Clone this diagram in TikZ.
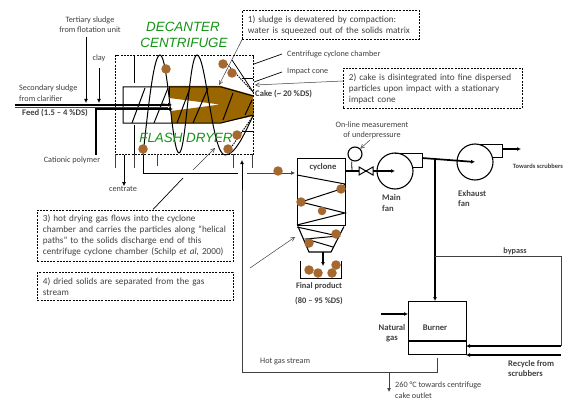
\documentclass[tikz,border=0pt]{standalone}
\usepackage{fontspec}
\setmainfont{Carlito}
\newfontfamily\greenfont{Liberation Sans}
\usetikzlibrary{arrows.meta}
\definecolor{ballc}{HTML}{A5692F}
\definecolor{cakec}{HTML}{996600}
\definecolor{txtc}{HTML}{404040}
\definecolor{grn}{HTML}{149414}
\tikzset{
 lab/.style={inner sep=0pt,anchor=west,align=left,font=\fontsize{8.2}{10.5}\selectfont,text=txtc},
 labc/.style={inner sep=0pt,anchor=center,align=center,font=\fontsize{8.2}{10}\selectfont,text=txtc},
 blab/.style={inner sep=0pt,anchor=west,align=left,font=\bfseries\fontsize{8.6}{10.5}\selectfont,text=txtc},
 title/.style={inner sep=0pt,anchor=center,font=\greenfont\itshape\fontsize{13.4}{14}\selectfont,text=grn},
 note/.style={draw,dash pattern=on 2pt off 1.2pt,line width=.8pt,anchor=north west,inner xsep=5.5pt,inner ysep=0pt,align=left,font=\fontsize{9.2}{11}\selectfont,text=txtc},
 ball/.style={circle,fill=ballc,inner sep=0pt,minimum size=9.5pt},
 thinln/.style={line width=.5pt,draw=txtc},
 med/.style={line width=1pt},
 arr/.style={-{Latex[length=4pt,width=4pt]}},
 oarr/.style={-{Straight Barb[length=4pt,width=4pt]}},
 blade/.style={line width=1pt}
}
\begin{document}
\begin{tikzpicture}[x=1pt,y=-1pt]
\useasboundingbox[fill=white] (0,0) rectangle (564,401);
% cake
\fill[cakec] (169,86) -- (221,86) -- (253,95) -- (254,116) -- (221,123) -- (171,123) -- (171,111) -- (220,104.5) -- (169,98) -- cycle;
% inner body
\draw[med] (169,87) -- (123,87) -- (123,123) -- (221,123) -- (253,115);
\draw[med] (169,87) -- (221,87) -- (253,96);
\draw[med] (169,87) -- (169,97);
% blades
\foreach \a/\b/\c/\d in {132/123/145/88,154/123/168/88,177/123/190/88,193/123/208/88,223/120/233/93,245/115/252/100}
  \draw[blade] (\a,\b) -- (\c,\d);
% decanter box
\node[draw,dash pattern=on 2pt off 1.2pt,line width=1.2pt,inner sep=0pt,minimum width=138pt,minimum height=99pt,anchor=north west] (dec) at (115,55) {};
% stubs
\foreach \x/\y in {115/168,134/168,157/166,233/168,252/168}
  \draw[line width=.7pt,draw=txtc] (\x,154) -- (\x,\y);
\draw[line width=.7pt] (134,56) -- (134,83);
\draw[line width=.7pt] (134,125) -- (134,154);
\draw[line width=.7pt] (242,78) -- (253,78);
\draw[line width=.7pt] (242,131) -- (253,131);
% helix
\draw[line width=1pt] (143,155) .. controls (149,100) and (154,55) .. (160,55) .. controls (168,55) and (172,153) .. (179,153) .. controls (186,153) and (189,55) .. (197,55) .. controls (206,55) and (212,155) .. (225,155) .. controls (236,155) and (246,130) .. (253,116);
\draw[line width=.8pt] (232,60) .. controls (240,72) and (248,84) .. (253,92);
\draw[line width=.9pt,dash pattern=on 1.5pt off 1pt] (225,62) -- (253,92);
\draw[line width=.9pt,dash pattern=on 1.5pt off 1pt] (228,152) -- (253,116);
% balls upper
\node[ball] (b1) at (166,69) {};
\node[ball] (b2) at (223,64) {};
\node[ball] (b3) at (232,73) {};
\node[ball] (b4) at (237,135) {};
\node[ball] (b5) at (228,149) {};
\node[ball] (b6) at (143,149) {};
% titles
\node[title] (t1) at (183,27) {DECANTER};
\node[title] (t2) at (184,43) {CENTRIFUGE};
\node[title] (t3) at (186,138) {FLASH DRYER};
% left labels
\node[labc] (tert) at (90,25) {Tertiary sludge\\from flotation unit};
\node[labc] (clay) at (99,58) {clay};
\node[lab] (sec) at (19,93) {Secondary sludge\\from  clarifier};
\node[blab] (feed) at (22,113) {Feed  (1.5 – 4 \%DS)};
\node[labc] (cat) at (72,160) {Cationic polymer};
\node[labc] (cen) at (123,189) {centrate};
\coordinate (feedS) at (15,105);
\coordinate (feedE) at (172,105);
\coordinate (polyS) at (96,155);
\coordinate (polyC) at (96,109);
\coordinate (polyE) at (173,109);
\draw[line width=1.2pt] (feedS) -- (168,105);
\draw[line width=.5pt,draw=txtc] (15,107) -- (168,107);
\draw[line width=1.2pt,arr] (polyS) -- (polyC) -- (polyE);
\draw[line width=1pt,arr] (162,104) -- (feedE);
\coordinate (tA) at (86,37);
\coordinate (tB) at (86,103);
\coordinate (cA) at (99,68);
\coordinate (cB) at (99,103);
\draw[med,arr] (tA) -- (tB);
\draw[med,arr] (cA) -- (cB);
\coordinate (cenA) at (124,155);
\draw[med,arr] (cenA) -- (cen.north -| cenA);
% notes
\node[note,text width=166pt,minimum height=29pt] (n1) at (242,10) {1) sludge is dewatered by compaction:\\water is squeezed out of the solids matrix};
\node[note,text width=168pt,minimum height=40pt] (n2) at (343,68) {2) cake is disintegrated into fine dispersed\\particles upon impact with a stationary\\impact cone};
\node[note,text width=185pt,minimum height=51pt] (n3) at (37,210) {3) hot drying gas flows into the cyclone\\chamber and carries the particles along “helical\\paths” to the solids discharge end of this\\centrifuge cyclone chamber  (Schilp \textit{et al,} 2000)};
\node[note,text width=185pt,minimum height=28pt] (n4) at (37,272) {4) dried solids are separated from the gas\\stream};
% callouts
\coordinate (n1t) at (219,85);
\draw[thinln,oarr] (n1.south west) -- (n1t);
\node[lab] (ccc) at (287,54) {Centrifuge cyclone chamber};
\node[lab] (imp) at (287,72) {Impact cone};
\node[blab] (cake) at (255,94) {Cake (\textasciitilde{} 20 \%DS)};
\coordinate (c1) at (254,64);
\coordinate (c2) at (254,82);
\coordinate (c3) at (255,85);
\draw[line width=.7pt] (282,54) -- (c1);
\draw[line width=.7pt] (282,72) -- (c2);
\draw[thinln,oarr] (n2.west |- 0,81) -- (c3);
\coordinate (n3a) at (183,178);
\coordinate (n3b) at (193,170);
\coordinate (n3c) at (215,148);
\draw[line width=.7pt] (153,209.5) -- (n3a);
\draw[thinln,oarr] (n3b) -- (n3c);
\coordinate (n4a) at (250,268);
\coordinate (n4b) at (295,237);
\draw[thinln,oarr] (n4a) -- (n4b);
% feed to cyclone
\coordinate (fA) at (143,155);
\coordinate (fB) at (143,173);
\coordinate (fC) at (238,173);
\coordinate (fD) at (247,173);
\coordinate (fE) at (295,173);
\draw[med] (fA) -- (fB) -- (fC);
\draw[line width=.7pt,draw=txtc,arr] (fD) -- (fE);
\node[ball] (b7) at (278,171) {};
% cyclone
\node[draw,line width=1.1pt,inner sep=0pt,minimum width=48pt,minimum height=67pt,anchor=north west] (cyc) at (297,158) {};
\node[inner sep=0pt,font=\bfseries\fontsize{8.6}{9}\selectfont,text=txtc] (cyct) at (323,167) {cyclone};
\draw[line width=1.1pt] (298,226.5) -- (309,252) -- (331,252) -- (344,226.5) ;
\draw[line width=1pt] (297,175) -- (345,184) -- (341,189) -- (301,202) -- (345,213) -- (297,225);
\draw[line width=1pt] (297,227) -- (338,236) -- (306,239) -- (333,247);
\node[ball] (s1) at (341,189) {};
\node[ball] (s2) at (301,202) {};
\node[ball,minimum size=8.5pt] (s3) at (322,211) {};
\node[ball] (s4) at (336,234) {};
\node[ball] (s5) at (309,243) {};
% bin
\coordinate (cone) at (323,252);
\coordinate (binT) at (323,266);
\draw[line width=1.5pt,arr] (cone) -- (binT);
\draw[line width=.9pt] (300,261) -- (300,278) -- (341,278) -- (341,261);
\node[ball] (p1) at (309,270) {};
\node[ball] (p2) at (318,273) {};
\node[ball] (p3) at (332,273) {};
\node[ball] (p4) at (336,265) {};
\node[inner sep=0pt,align=center,font=\bfseries\fontsize{8.4}{15}\selectfont,text=txtc] (fin) at (319,293.5) {Final product\\(80 – 95 \%DS)};
% gauge, valve, fans
\node[labc] (onl) at (372,130) {On-line measurement\\of underpressure};
\node[draw,circle,line width=1.1pt,minimum size=14pt,inner sep=0pt] (g) at (355,154) {};
\coordinate (gB) at (352,171);
\draw[line width=.8pt] (g.south west |- g.south) ++(2,0) -- (gB);
\coordinate (onlS) at (370,140);
\draw[thinln,oarr] (onlS) -- (g.north east);
\node[draw,circle,line width=1.1pt,minimum size=36pt,inner sep=0pt] (mf) at (395,171) {};
\node[draw,circle,line width=1.1pt,minimum size=36pt,inner sep=0pt] (ef) at (475,162) {};
\draw[line width=1.5pt,arr] (cyc.east |- 0,171) -- (mf.center);
\fill[white] (359,167) -- (366,171) -- (359,175) -- cycle (373,167) -- (366,171) -- (373,175) -- cycle;
\draw[line width=1pt] (359,167) -- (373,175) -- (373,167) -- (359,175) -- cycle;
\draw[line width=1pt] (395,153) -- (422,153) -- (422,167) -- (413,167);
\draw[line width=1pt] (477,144) -- (502,144) -- (502,157) -- (493,157);
\coordinate (mfO) at (422,158);
\draw[line width=1.7pt,arr] (mfO) -- (ef.center);
\coordinate (efO) at (502,149);
\coordinate (efE) at (521,149);
\draw[line width=1.5pt,arr] (efO) -- (efE);
\node[inner sep=0pt,font=\bfseries\fontsize{6.5}{7}\selectfont,text=txtc] (tow) at (538,166) {Towards scrubbers};
\node[blab] (mfl) at (382,203) {Main\\fan};
\node[blab] (efl) at (458,198.5) {Exhaust\\fan};
% burner
\node[draw,line width=1.1pt,inner sep=0pt,minimum width=58pt,minimum height=53pt,anchor=north west] (bu) at (408,301) {};
\draw[line width=1.1pt] (408,341) -- (466,341);
\node[blab,anchor=center] (but) at (435,328) {Burner};
\node[blab,anchor=center,align=center] (ng) at (392,333) {Natural\\gas};
\coordinate (jn) at (435,158);
\draw[line width=1.7pt,arr] (jn) -- (jn |- bu.north);
\coordinate (byA) at (435,256);
\coordinate (byB) at (561,256);
\coordinate (byC) at (561,346);
\draw[line width=.8pt,draw=txtc] (byA) -- (byB) -- (byC);
\draw[line width=1.5pt,arr] (byC) -- (466,346);
\node[inner sep=0pt,font=\bfseries\fontsize{8.2}{9}\selectfont,text=txtc] (byl) at (515,251) {bypass};
\coordinate (recS) at (561,355);
\draw[line width=1.5pt,arr] (recS) -- (466,355);
\node[blab] (rec) at (508,368.5) {Recycle from\\scrubbers};
\coordinate (ngS) at (381,314);
\draw[line width=1.4pt,arr] (ngS) -- (bu.west |- ngS);
% hot gas
\coordinate (hA) at (437,358);
\coordinate (hB) at (437,372);
\coordinate (hC) at (242,372);
\coordinate (hD) at (242,160);
\coordinate (hE) at (389,372);
\coordinate (hF) at (389,392);
\draw[line width=.8pt,draw=txtc] (hA) -- (hB) -- (hC);
\draw[line width=.8pt,draw=txtc] (hC) -- (242,190);
\draw[line width=.8pt,arr] (242,190) -- (hD);
\draw[line width=.7pt,draw=txtc,arr] (hE) -- (hF);
\node[lab] (hot) at (260,362) {Hot gas stream};
\node[lab] (deg) at (395,390) {260 °C towards centrifuge\\cake outlet};
\end{tikzpicture}
\end{document}
